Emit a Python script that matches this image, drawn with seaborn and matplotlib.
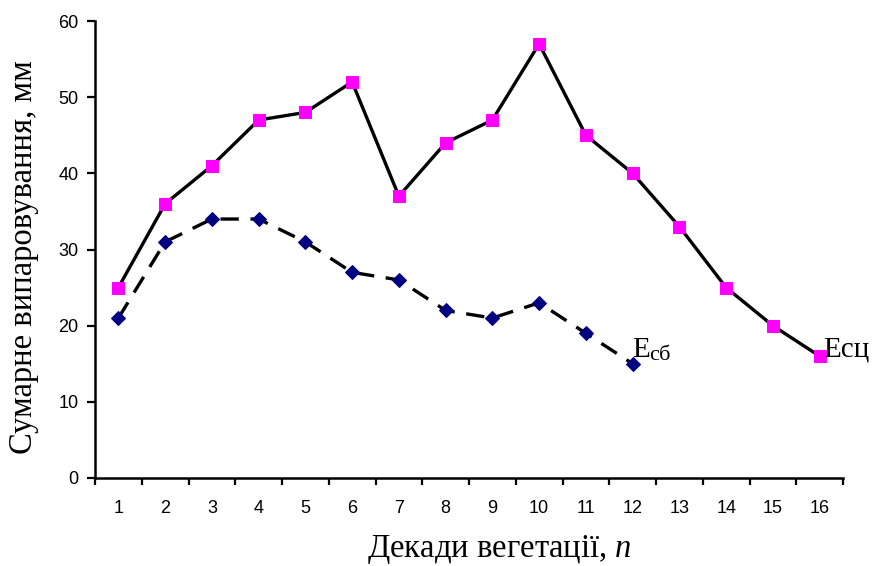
import numpy as np
import seaborn as sns
import matplotlib.pyplot as plt

# декади вегетації
decades = list(range(1, 17))
# сумарне випаровування Есц (16 декад) і Есб (12 декад)
e_sc = [25, 36, 41, 47, 48, 52, 37, 44, 47, 57, 45, 40, 33, 25, 20, 16]
e_sb = [21, 31, 34, 34, 31, 27, 26, 22, 21, 23, 19, 15]
y_ticks = [0, 10, 20, 30, 40, 50, 60]

sns.set_style('white')
plt.rcParams['font.family'] = ['Liberation Sans', 'DejaVu Sans']
plt.rcParams['mathtext.fontset'] = 'custom'
plt.rcParams['mathtext.rm'] = 'Liberation Serif'
plt.rcParams['mathtext.it'] = 'Liberation Serif:italic'
for k in ['text.color', 'axes.labelcolor', 'xtick.color', 'ytick.color']:
    plt.rcParams[k] = 'black'

fig = plt.figure(figsize=(8.74, 5.66), dpi=100)
ax = fig.add_axes([95 / 874, 1 - 478 / 566, 748 / 874, 457 / 566])

sns.lineplot(x=decades, y=e_sc, ax=ax, color='black', linewidth=2.4,
             marker='s', markersize=8.6, markerfacecolor='#FF00FF',
             markeredgecolor='#FF00FF', zorder=3)
sns.lineplot(x=decades[:len(e_sb)], y=e_sb, ax=ax, color='black', linewidth=2.4,
             linestyle=(0, (5.5, 3.5)), marker='D', markersize=6.8,
             markerfacecolor='#000080', markeredgecolor='#000080', zorder=3)

ax.set_xlim(0.5, 16.5)
ax.set_ylim(0, 60)
ax.set_yticks(y_ticks)
ax.set_yticklabels([str(v) for v in y_ticks], fontsize=13)

# поділки між категоріями, підписи по центру
ax.set_xticks(np.arange(0.5, 17, 1))
ax.set_xticklabels([])
ax.set_xticks(decades, minor=True)
ax.set_xticklabels([str(d) for d in decades], minor=True, fontsize=13)
ax.tick_params(axis='x', which='major', direction='out', length=5, width=1.6, bottom=True)
ax.tick_params(axis='x', which='minor', length=0, pad=16)
ax.tick_params(axis='y', direction='out', length=6, width=1.6, left=True, pad=6)

sns.despine(ax=ax)
for s in ['left', 'bottom']:
    ax.spines[s].set_linewidth(1.8)
    ax.spines[s].set_color('black')

ax.set_ylabel('Сумарне випаровування, мм', family='Liberation Serif', fontsize=23.5)
ax.yaxis.set_label_coords((39 - 95) / 748, (478 - 257.5) / 457)
ax.set_xlabel('Декади вегетації, $\\mathit{n}$', family='Liberation Serif', fontsize=23.5)
ax.xaxis.label.set_va('baseline')
ax.xaxis.set_label_coords((499 - 95) / 748, (478 - 557) / 457)

ax.text(11.98, 15.9, 'E', fontsize=21, family='Liberation Serif',
        ha='left', va='baseline')
ax.annotate('сб', xy=(11.98, 15.9), xytext=(12.8, -2.5), textcoords='offset points',
            fontsize=16, family='Liberation Serif', ha='left', va='baseline')
ax.text(16.08, 15.9, 'Есц', fontsize=21, family='Liberation Serif',
        ha='left', va='baseline', clip_on=False)

fig.savefig('out.png', dpi=100)
